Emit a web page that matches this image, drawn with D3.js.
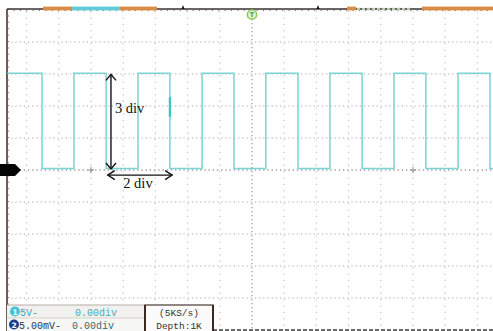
<!DOCTYPE html>
<html>
<head>
<meta charset="utf-8">
<script src="https://cdn.jsdelivr.net/npm/d3@7"></script>
<style>
  html, body { margin: 0; padding: 0; background: #fff; }
  svg { display: block; }
</style>
</head>
<body>
<svg id="scope" width="493" height="331"></svg>
<script>
// Channel 1 square wave: time in ms (1 ms/div), amplitude in volts (5 V/div).
// Each point starts a level that holds until the next point (step trace).
const waveTime  = [-7.6, -6.52, -5.53, -4.53, -3.54, -2.55, -1.55, -0.56, 0.43, 1.43, 2.42, 3.42, 4.41, 5.40, 6.40, 7.39, 7.6];
const waveVolts = [15.1, 0.25, 15.1, 0.25, 15.1, 0.25, 15.1, 0.25, 15.1, 0.25, 15.1, 0.25, 15.1, 0.25, 15.1, 0.25, 0.25];

// Grid divisions
const timeDivs = [-7, -6, -5, -4, -3, -2, -1, 0, 1, 2, 3, 4, 5, 6, 7];
const voltDivs = [-4, -3, -2, -1, 0, 1, 2, 3, 4];

// Status panel text
const ch1Scale = "5V-";
const ch1Offset = "0.00div";
const ch2Scale = "5.00mV-";
const ch2Offset = "0.00div";
const sampleRate = "(5KS/s)";
const memDepth = "Depth:1K";

// Measurement annotations
const periodLabel = "2 div";
const amplitudeLabel = "3 div";

const svg = d3.select("#scope");
const msPerDiv = 1, voltsPerDiv = 5;

const x = d3.scaleLinear().domain([-7.6, 7.6]).range([252 - 7.6 * 32.2, 252 + 7.6 * 32.2]);
const y = d3.scaleLinear().domain([-5 * voltsPerDiv, 5 * voltsPerDiv]).range([330, 10]);

const edgeL = 7, edgeR = 493, edgeT = 9, edgeB = 330;

// ---- graticule ----
const grid = svg.append("g");
grid.selectAll("line.v").data(timeDivs).join("line")
  .attr("x1", d => x(d * msPerDiv)).attr("x2", d => x(d * msPerDiv))
  .attr("y1", edgeT + 2).attr("y2", edgeB)
  .attr("stroke", d => d === 0 ? "#a0a0a0" : "#c8c8c8")
  .attr("stroke-width", 1.3)
  .attr("stroke-dasharray", d => d === 0 ? "1.3,2.7" : "1.3,5.1");

grid.selectAll("line.h").data(voltDivs).join("line")
  .attr("x1", edgeL).attr("x2", edgeR)
  .attr("y1", d => y(d * voltsPerDiv)).attr("y2", d => y(d * voltsPerDiv))
  .attr("stroke", d => d === 0 ? "#9a9a9a" : "#c8c8c8")
  .attr("stroke-width", 1.3)
  .attr("stroke-dasharray", "1.3,2.9");

// small crosses on the centre line
[-5, 5].forEach(d => {
  const cx = x(d * msPerDiv), cy = y(0);
  grid.append("path")
    .attr("d", `M${cx - 3},${cy}H${cx + 3}M${cx},${cy - 3}V${cy + 3}`)
    .attr("stroke", "#8a8a8a").attr("stroke-width", 1);
});

// ---- frame ----
const frame = svg.append("g");
// left border with minor ticks
frame.append("line").attr("x1", edgeL).attr("x2", edgeL).attr("y1", edgeT).attr("y2", edgeB + 1)
  .attr("stroke", "#4b3526").attr("stroke-width", 1.6);
frame.append("line").attr("x1", edgeL + 1.5).attr("x2", edgeL + 1.5).attr("y1", edgeT).attr("y2", edgeB)
  .attr("stroke", "#8d7a6c").attr("stroke-width", 1.2).attr("stroke-dasharray", "1,5.4");
// top border
frame.append("line").attr("x1", edgeL).attr("x2", edgeR).attr("y1", edgeT).attr("y2", edgeT)
  .attr("stroke", "#3a3030").attr("stroke-width", 1.6);
frame.append("line").attr("x1", edgeL).attr("x2", edgeR).attr("y1", edgeT + 1.6).attr("y2", edgeT + 1.6)
  .attr("stroke", "#6a6060").attr("stroke-width", 1).attr("stroke-dasharray", "1,5.4");
// memory window bar segments along the top
const topBar = [
  {x0: 43, x1: 72, c: "#d98c45"},
  {x0: 72, x1: 120, c: "#62cbd9"},
  {x0: 120, x1: 157, c: "#d98c45"},
  {x0: 347, x1: 356, c: "#d98c45"},
  {x0: 422, x1: 493, c: "#d98c45"}
];
frame.selectAll("rect.seg").data(topBar).join("rect")
  .attr("x", d => d.x0).attr("y", edgeT - 2.4).attr("width", d => d.x1 - d.x0).attr("height", 3.8)
  .attr("fill", d => d.c);
frame.append("line").attr("x1", 357).attr("x2", 410).attr("y1", edgeT).attr("y2", edgeT)
  .attr("stroke", "#b9c9b0").attr("stroke-width", 2.4).attr("stroke-dasharray", "3,2");
[183, 318].forEach(px => frame.append("path")
  .attr("d", `M${px - 1.5},${edgeT}L${px},${edgeT - 4}L${px + 1.5},${edgeT}Z`).attr("fill", "#111"));

// trigger position marker
const trig = svg.append("g").attr("transform", `translate(${x(0)},14.5)`);
trig.append("circle").attr("r", 4.6).attr("fill", "#e3f3cf").attr("stroke", "#86c451").attr("stroke-width", 1.4);
trig.append("text").attr("text-anchor", "middle").attr("y", 2.6).attr("font-family", "DejaVu Sans")
  .attr("font-size", 6.5).attr("font-weight", "bold").attr("fill", "#5a9a30").text("T");

// bottom border (dashed)
svg.append("line").attr("x1", 213).attr("x2", edgeR).attr("y1", edgeB).attr("y2", edgeB)
  .attr("stroke", "#3c3c3c").attr("stroke-width", 1.4).attr("stroke-dasharray", "4,2");

// ---- waveform ----
const line = d3.line().x((d, i) => x(waveTime[i])).y((d, i) => y(waveVolts[i])).curve(d3.curveStepAfter);
svg.append("path").datum(waveTime).attr("d", line)
  .attr("fill", "none").attr("stroke", "#7bd3d3").attr("stroke-width", 1.5);
// highlighted segment on the falling edge
svg.append("line").attr("x1", x(-2.55)).attr("x2", x(-2.55)).attr("y1", y(11.4)).attr("y2", y(8.3))
  .attr("stroke", "#36c6c6").attr("stroke-width", 2.2);

// ground reference marker
svg.append("path")
  .attr("d", `M0,${y(0) - 6}H15L21,${y(0)}L15,${y(0) + 6}H0Z`).attr("fill", "#050505");

// ---- annotations ----
const ann = svg.append("g").attr("stroke", "#111").attr("stroke-width", 1.4).attr("fill", "none");
const ax = x(-4.38), ay1 = y(15.1), ay2 = y(0);
ann.append("path").attr("d", `M${ax},${ay1 + 1}V${ay2 - 1}`);
ann.append("path").attr("d", `M${ax - 5},${ay1 + 7}L${ax},${ay1 + 1}L${ax + 5},${ay1 + 7}`);
ann.append("path").attr("d", `M${ax - 5},${ay2 - 7}L${ax},${ay2 - 1}L${ax + 5},${ay2 - 7}`);
const hy = y(-0.8), hx1 = x(-4.48), hx2 = x(-2.48);
ann.append("path").attr("d", `M${hx1},${hy}H${hx2}`);
ann.append("path").attr("d", `M${hx1 + 7},${hy - 4.5}L${hx1},${hy}L${hx1 + 7},${hy + 4.5}`);
ann.append("path").attr("d", `M${hx2 - 7},${hy - 4.5}L${hx2},${hy}L${hx2 - 7},${hy + 4.5}`);

svg.append("text").attr("x", ax + 4).attr("y", 113).attr("font-family", "Liberation Serif")
  .attr("font-size", 14.5).attr("fill", "#111").text(amplitudeLabel);
svg.append("text").attr("x", (hx1 + hx2) / 2 - 2).attr("y", 188).attr("text-anchor", "middle")
  .attr("font-family", "Liberation Serif").attr("font-size", 14.5).attr("fill", "#111").text(periodLabel);

// ---- status panel ----
const panel = svg.append("g");
panel.append("rect").attr("x", edgeL).attr("y", 305).attr("width", 138).attr("height", 13).attr("fill", "#f1f1ef");
panel.append("rect").attr("x", edgeL).attr("y", 318).attr("width", 138).attr("height", 13).attr("fill", "#f7f7f5");
panel.append("line").attr("x1", edgeL).attr("x2", 145).attr("y1", 305).attr("y2", 305)
  .attr("stroke", "#b8aca4").attr("stroke-width", 1);
panel.append("line").attr("x1", edgeL).attr("x2", 145).attr("y1", 318).attr("y2", 318)
  .attr("stroke", "#d8d0ca").attr("stroke-width", 1);
// channel badges
panel.append("circle").attr("cx", 15).attr("cy", 311.5).attr("r", 5).attr("fill", "#3fc4dc");
panel.append("text").attr("x", 15).attr("y", 314.5).attr("text-anchor", "middle").attr("font-family", "DejaVu Sans")
  .attr("font-size", 7.5).attr("font-weight", "bold").attr("fill", "#fff").text("1");
panel.append("circle").attr("cx", 14).attr("cy", 324.5).attr("r", 5).attr("fill", "#1b3f8c");
panel.append("text").attr("x", 14).attr("y", 327.5).attr("text-anchor", "middle").attr("font-family", "DejaVu Sans")
  .attr("font-size", 7.5).attr("font-weight", "bold").attr("fill", "#fff").text("2");

const mono = "Liberation Mono";
panel.append("text").attr("x", 20).attr("y", 315.5).attr("font-family", mono).attr("font-size", 10)
  .attr("fill", "#3aa6b4").text(ch1Scale);
panel.append("text").attr("x", 75).attr("y", 315.5).attr("font-family", mono).attr("font-size", 10)
  .attr("fill", "#4aaab0").text(ch1Offset);
panel.append("text").attr("x", 19).attr("y", 328.5).attr("font-family", mono).attr("font-size", 10)
  .attr("fill", "#2a3550").text(ch2Scale);
panel.append("text").attr("x", 72).attr("y", 328.5).attr("font-family", mono).attr("font-size", 10)
  .attr("fill", "#3a6a74").text(ch2Offset);

// acquisition box
panel.append("rect").attr("x", 145).attr("y", 305).attr("width", 68).attr("height", 27)
  .attr("fill", "#fbfbfb").attr("stroke", "#4a3a32").attr("stroke-width", 1.2);
panel.append("line").attr("x1", 145).attr("x2", 145).attr("y1", 305).attr("y2", 331).attr("stroke", "#3a2a22").attr("stroke-width", 2);
panel.append("line").attr("x1", 213).attr("x2", 213).attr("y1", 305).attr("y2", 331).attr("stroke", "#3a2a22").attr("stroke-width", 2);
panel.append("text").attr("x", 179).attr("y", 315.5).attr("text-anchor", "middle").attr("font-family", mono)
  .attr("font-size", 9.5).attr("fill", "#333").text(sampleRate);
panel.append("text").attr("x", 179).attr("y", 328.5).attr("text-anchor", "middle").attr("font-family", mono)
  .attr("font-size", 9.5).attr("fill", "#333").text(memDepth);
</script>
</body>
</html>
